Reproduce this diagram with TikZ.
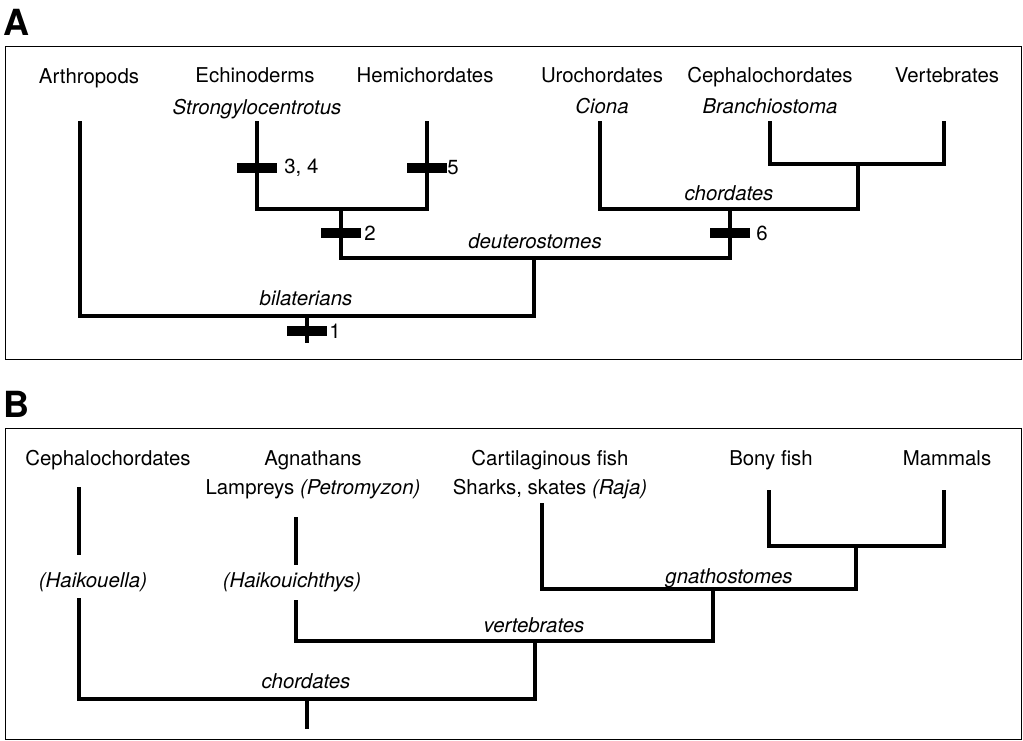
\documentclass[tikz,border=0pt]{standalone}
\usepackage{fontspec}
\setmainfont{TeX Gyre Heros}
\usetikzlibrary{positioning}

\begin{document}
\begin{tikzpicture}[x=1pt,y=-1pt,
  every node/.style={font=\fontsize{20.4}{24}\selectfont, inner sep=0pt},
  taxon/.style={anchor=base},
  genus/.style={anchor=base, font=\fontsize{20.4}{24}\selectfont\itshape},
  clade/.style={anchor=base, font=\fontsize{20.4}{24}\selectfont\itshape},
  branch/.style={line width=4pt},
  panel/.style={draw, line width=0.8pt},
  tick/.style={fill, minimum width=40pt, minimum height=10pt},
  tag/.style={anchor=west},
  letter/.style={anchor=base west, font=\fontsize{36}{42}\selectfont\bfseries}]
  \useasboundingbox (0,0) rectangle (1023,740);

  % panel A
  \node[letter] (pa) at (3,35) {A};
  \draw[panel] (5,46) rectangle (1021,359);
  \node[taxon] (arthA) at (89,83) {Arthropods};
  \node[taxon] (echiA) at (255,82) {Echinoderms};
  \node[taxon] (hemiA) at (425,82) {Hemichordates};
  \node[taxon] (uroA) at (602,82) {Urochordates};
  \node[taxon] (cephA) at (770,82) {Cephalochordates};
  \node[taxon] (vertA) at (947,82) {Vertebrates};
  \node[genus] (strongy) at (257,114) {Strongylocentrotus};
  \node[genus] (ciona) at (602,113) {Ciona};
  \node[genus] (branchio) at (770,113) {Branchiostoma};

  \coordinate (arth) at (80,121);
  \coordinate (echi) at (257,121);
  \coordinate (hemi) at (427,121);
  \coordinate (uro) at (600,121);
  \coordinate (ceph) at (770,121);
  \coordinate (vert) at (944,121);
  \coordinate (ambu) at (341,209);
  \coordinate (cv) at (858,164);
  \coordinate (chor) at (730,209);
  \coordinate (deut) at (534,258);
  \coordinate (bila) at (307,316);
  \coordinate (root) at (307,343);

  \draw[branch] (echi) |- (ambu) -| (hemi);
  \draw[branch] (ceph) |- (cv) -| (vert);
  \draw[branch] (uro) |- (chor) -| (cv);
  \draw[branch] (ambu) |- (deut) -| (chor);
  \draw[branch] (arth) |- (bila) -| (deut);
  \draw[branch] (bila) -- (root);

  \node[clade] (bilat) at (306,305) {bilaterians};
  \node[clade] (deutero) at (535,248) {deuterostomes};
  \node[clade] (chordA) at (729,200) {chordates};

  \node[tick] (b1) at (307,331) {};
  \node[tick] (b34) at (257,168) {};
  \node[tick] (b5) at (427,168) {};
  \node[tick] (b2) at (341,233) {};
  \node[tick] (b6) at (730,233) {};
  \node[tag, right=2pt of b1] (t1) {1};
  \node[tag, right=7pt of b34] (t34) {3, 4};
  \node[tag, right=0pt of b5] (t5) {5};
  \node[tag, right=3pt of b2] (t2) {2};
  \node[tag, right=6pt of b6] (t6) {6};

  % panel B
  \node[letter] (pb) at (3,417) {B};
  \draw[panel] (5,428) rectangle (1021,739);
  \node[taxon] (cephB) at (108,465) {Cephalochordates};
  \node[taxon] (agnB) at (313,465) {Agnathans};
  \node[taxon] (cartB) at (550,465) {Cartilaginous fish};
  \node[taxon] (bonyB) at (771,465) {Bony fish};
  \node[taxon] (mammB) at (947,465) {Mammals};
  \node[taxon] (lamprey) at (313,494) {Lampreys \textit{(Petromyzon)}};
  \node[taxon] (sharks) at (550,494) {Sharks, skates \textit{(Raja)}};
  \node[genus] (haikou) at (93,587) {(Haikouella)};
  \node[genus] (haikoui) at (292,587) {(Haikouichthys)};

  \coordinate (cepha) at (79,487);
  \coordinate (cephb) at (79,555);
  \coordinate (cephc) at (79,598);
  \coordinate (lampa) at (296,517);
  \coordinate (lampb) at (296,565);
  \coordinate (lampc) at (296,600);
  \coordinate (cart) at (542,503);
  \coordinate (bony) at (769,490);
  \coordinate (mamm) at (944,490);
  \coordinate (bm) at (856,546);
  \coordinate (gnath) at (713,589);
  \coordinate (vertb) at (535,641);
  \coordinate (chordb) at (307,699);
  \coordinate (rootb) at (307,729);

  \draw[branch] (cepha) -- (cephb);
  \draw[branch] (lampa) -- (lampb);
  \draw[branch] (bony) |- (bm) -| (mamm);
  \draw[branch] (cart) |- (gnath) -| (bm);
  \draw[branch] (lampc) |- (vertb) -| (gnath);
  \draw[branch] (cephc) |- (chordb) -| (vertb);
  \draw[branch] (chordb) -- (rootb);

  \node[clade] (gnatho) at (729,583) {gnathostomes};
  \node[clade] (vertebr) at (534,632) {vertebrates};
  \node[clade] (chordB) at (306,688) {chordates};
\end{tikzpicture}
\end{document}
